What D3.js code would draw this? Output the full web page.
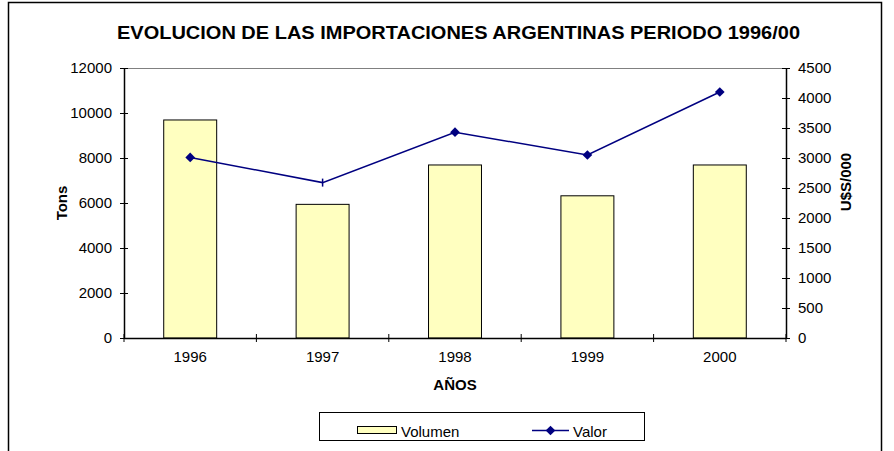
<!DOCTYPE html>
<html>
<head>
<meta charset="utf-8">
<script src="https://cdn.jsdelivr.net/npm/d3@7"></script>
<style>
  body { margin: 0; background: #fff; }
  text { font-family: "Liberation Sans", Arial, sans-serif; fill: #000; }
</style>
</head>
<body>
<div id="chart"></div>
<script>
// data
const years = ["1996", "1997", "1998", "1999", "2000"];
const volumen = [9690, 5940, 7690, 6320, 7690];   // Tons (bars, left axis)
const valor = [3010, 2590, 3430, 3050, 4100];     // U$S/000 (line, right axis)
const markerShape = ["diamond", "tick", "diamond", "diamond", "diamond"];
const leftTicks = [0, 2000, 4000, 6000, 8000, 10000, 12000];
const rightTicks = [0, 500, 1000, 1500, 2000, 2500, 3000, 3500, 4000, 4500];

const W = 894, H = 451;
const margin = { top: 68, right: 108, bottom: 113, left: 124 };
const width = W - margin.left - margin.right,
  height = H - margin.top - margin.bottom;

const svg = d3.select("#chart").append("svg")
  .attr("width", W).attr("height", H);

// outer frame
svg.append("rect")
  .attr("x", 8.5).attr("y", 2.5)
  .attr("width", 873).attr("height", 460)
  .attr("fill", "none").attr("stroke", "#000").attr("stroke-width", 1.5);

// title
svg.append("text")
  .attr("x", 117).attr("y", 39)
  .attr("textLength", 683).attr("lengthAdjust", "spacingAndGlyphs")
  .style("font-weight", "bold").style("font-size", "18px")
  .text("EVOLUCION DE LAS IMPORTACIONES ARGENTINAS PERIODO 1996/00");

const x = d3.scaleBand().domain(years).range([0, width]).paddingInner(0).paddingOuter(0);
const yL = d3.scaleLinear().domain([0, 12000]).range([height, 0]);
const yR = d3.scaleLinear().domain([0, 4500]).range([height, 0]);

const g = svg.append("g").attr("transform", "translate(" + margin.left + "," + margin.top + ")");

// top border of plot area
g.append("line")
  .attr("x1", 0).attr("x2", width).attr("y1", 0.5).attr("y2", 0.5)
  .attr("stroke", "#808080").attr("stroke-width", 1);

// bars: gap width 150%
const barW = x.bandwidth() / 2.5;
g.selectAll("rect.bar")
  .data(volumen)
  .join("rect")
  .attr("class", "bar")
  .attr("x", (d, i) => x(years[i]) + x.bandwidth() / 2 - barW / 2)
  .attr("width", barW)
  .attr("y", d => yL(d))
  .attr("height", d => yL(0) - yL(d))
  .attr("fill", "#FFFFC0")
  .attr("stroke", "#000").attr("stroke-width", 1);

// line
const line = d3.line()
  .x((d, i) => x(years[i]) + x.bandwidth() / 2)
  .y(d => yR(d));
g.append("path")
  .datum(valor)
  .attr("d", line)
  .attr("fill", "none")
  .attr("stroke", "#000080").attr("stroke-width", 1.5);

const diamond = d3.symbol().type(d3.symbolDiamond2).size(60);
valor.forEach((v, i) => {
  const cx = x(years[i]) + x.bandwidth() / 2, cy = yR(v);
  if (markerShape[i] === "diamond") {
    g.append("path")
      .attr("d", diamond())
      .attr("transform", "translate(" + cx + "," + cy + ")")
      .attr("fill", "#000080");
  } else {
    g.append("line")
      .attr("x1", cx).attr("x2", cx).attr("y1", cy - 4).attr("y2", cy + 4)
      .attr("stroke", "#000080").attr("stroke-width", 1.5);
  }
});

// axes (ticks cross the axis line)
const leftAxis = d3.axisLeft(yL).tickValues(leftTicks).tickFormat(d3.format("d"))
  .tickSizeInner(4).tickSizeOuter(0).tickPadding(8);
const gl = g.append("g").call(leftAxis);
gl.selectAll(".tick line").attr("x2", -4).attr("x1", 4);

const rightAxis = d3.axisRight(yR).tickValues(rightTicks).tickFormat(d3.format("d"))
  .tickSizeInner(4).tickSizeOuter(0).tickPadding(8);
const gr = g.append("g").attr("transform", "translate(" + width + ",0)").call(rightAxis);
gr.selectAll(".tick line").attr("x1", -4).attr("x2", 4);

const gx = g.append("g").attr("transform", "translate(0," + height + ")")
  .call(d3.axisBottom(x).tickSize(0).tickPadding(13));
// tick marks between categories
const bounds = years.map(y => x(y)).concat([width]);
gx.selectAll("line.sep")
  .data(bounds)
  .join("line")
  .attr("class", "sep")
  .attr("x1", d => d).attr("x2", d => d)
  .attr("y1", -4).attr("y2", 4)
  .attr("stroke", "#000");

[gl, gr, gx].forEach(a => {
  a.select(".domain").attr("stroke", "#000").attr("stroke-width", 1.5);
  a.selectAll(".tick line").attr("stroke", "#000");
  a.selectAll("text").style("font-size", "15px").attr("font-family", null);
});

// axis titles
svg.append("text")
  .attr("transform", "translate(67,203) rotate(-90)")
  .attr("text-anchor", "middle")
  .style("font-weight", "bold").style("font-size", "15px")
  .text("Tons");
svg.append("text")
  .attr("transform", "translate(851,182) rotate(-90)")
  .attr("text-anchor", "middle")
  .style("font-weight", "bold").style("font-size", "15px")
  .text("U$S/000");
svg.append("text")
  .attr("x", margin.left + width / 2).attr("y", 390)
  .attr("text-anchor", "middle")
  .style("font-weight", "bold").style("font-size", "15px")
  .text("AÑOS");

// legend
const lg = svg.append("g");
lg.append("rect")
  .attr("x", 319.5).attr("y", 412.5).attr("width", 325).attr("height", 28)
  .attr("fill", "#fff").attr("stroke", "#000").attr("stroke-width", 1);
lg.append("rect")
  .attr("x", 357.5).attr("y", 426.5).attr("width", 39).attr("height", 7)
  .attr("fill", "#FFFFC0").attr("stroke", "#000").attr("stroke-width", 1);
lg.append("text").attr("x", 401).attr("y", 437).style("font-size", "15px").text("Volumen");
lg.append("line")
  .attr("x1", 532).attr("x2", 569).attr("y1", 430.5).attr("y2", 430.5)
  .attr("stroke", "#000080").attr("stroke-width", 1.5);
lg.append("path").attr("d", diamond())
  .attr("transform", "translate(550.5,430.5)").attr("fill", "#000080");
lg.append("text").attr("x", 573).attr("y", 437).style("font-size", "15px").text("Valor");
</script>
</body>
</html>
